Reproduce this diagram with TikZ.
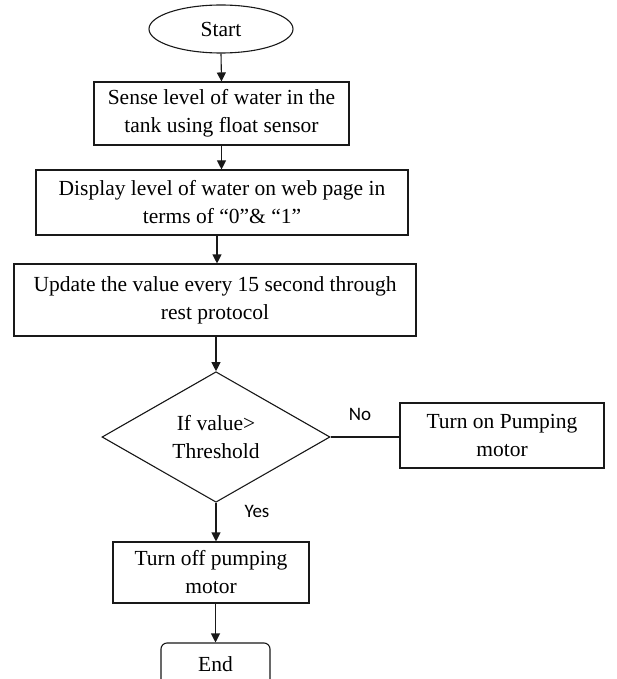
\documentclass[tikz,border=0pt]{standalone}
\usepackage{fontspec}
\setmainfont{Liberation Serif}
\newfontfamily\labelfont{Carlito}
\usetikzlibrary{shapes.geometric,arrows.meta}
\begin{document}
\begin{tikzpicture}[x=1pt,y=-1pt,
  every node/.style={font=\fontsize{21.5}{28}\selectfont, align=center, text=black},
  procbox/.style={draw=black!90, line width=1.1pt, rectangle, inner sep=0pt},
  startnode/.style={draw=black!90, line width=1.1pt, ellipse, inner sep=0pt, minimum width=144, minimum height=48},
  decision/.style={draw=black!90, line width=1.1pt, diamond, inner sep=0pt, minimum width=228, minimum height=126},
  endnode/.style={draw=black!90, line width=1.1pt, rectangle, rounded corners=6pt, inner sep=0pt},
  flow/.style={draw=black!90, line width=1.1pt, -{Triangle[length=9pt,width=9pt]}},
  link/.style={draw=black!90, line width=1.1pt},
  tag/.style={font=\labelfont\fontsize{19}{22}\selectfont}
]
\useasboundingbox (0,0) rectangle (617,679);
\clip (0,0) rectangle (617,679);
\fill[white] (0,0) rectangle (617,679);

\node[startnode] (start) at (221,29) {Start};
\node[procbox, minimum width=255, minimum height=63] (sense) at (221.5,113.5)
  {Sense level of water in the\\tank using float sensor};
\node[procbox, minimum width=372, minimum height=65] (display) at (222,202.5)
  {Display level of water on web page in\\terms of “0”\& “1”};
\node[procbox, minimum width=402, minimum height=72] (update) at (215,300)
  {\raisebox{3pt}{\begin{tabular}{@{}c@{}}Update the value every 15 second through\\rest protocol\end{tabular}}};
\node[decision] (check) at (216,437) {If value>\\Threshold};
\node[procbox, minimum width=204, minimum height=65] (pumpon) at (502,435.5)
  {Turn on Pumping\\motor};
\node[procbox, minimum width=196, minimum height=61] (pumpoff) at (211,572.5)
  {Turn off pumping\\motor};
\node[endnode, minimum width=109, minimum height=42] (finish) at (215.5,664) {End};

\draw[flow] (start.south) -- (sense.north);
\draw[flow] (sense.south) -- (sense.south |- display.north);
\draw[flow] (display.south -| 217,0) -- (update.north -| 217,0);
\draw[flow] (update.south -| check.north) -- (check.north);
\draw[link] (check.east) -- (check.east -| pumpon.west);
\draw[flow] (check.south) -- (check.south |- pumpoff.north);
\draw[flow] (pumpoff.south -| finish.north) -- (finish.north);

\node[tag] (nolabel) at (360,414) {No};
\node[tag] (yeslabel) at (257,511) {Yes};
\end{tikzpicture}
\end{document}
